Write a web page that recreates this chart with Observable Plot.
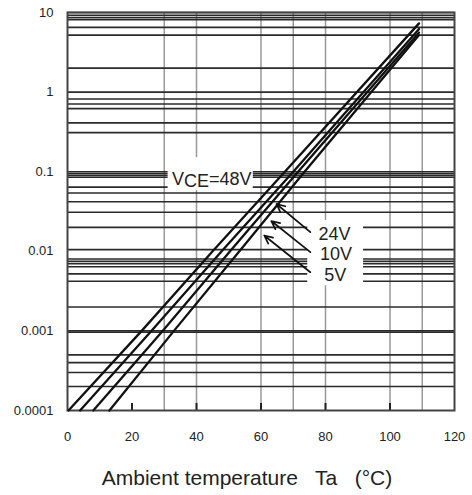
<!DOCTYPE html>
<html><head><meta charset="utf-8">
<script src="https://cdn.jsdelivr.net/npm/d3@7"></script>
<script src="https://cdn.jsdelivr.net/npm/@observablehq/plot@0.6"></script>
<style>
body{margin:0;background:#fff;font-family:"Liberation Sans",Arial,sans-serif;}
#wrap{position:relative;width:472px;height:495px;overflow:hidden;}
#xlabel{position:absolute;left:22px;right:0;top:466px;text-align:center;font-size:21px;line-height:24px;white-space:pre;color:#222;}
</style></head><body>
<div id="wrap"><div id="chart"></div><div id="xlabel">Ambient temperature   Ta   (°C)</div></div>
<script>
// Series (VCE) and readings: temperature (°C) vs value
const series = ["48V", "24V", "10V", "5V"];
const temp48 = [0.3, 23, 45, 67.4, 109];
const val48  = [1e-4, 1e-3, 1e-2, 0.1, 7.3];
const temp24 = [3.9, 26, 47.8, 70, 109];
const val24  = [1e-4, 1e-3, 1e-2, 0.1, 6.2];
const temp10 = [8, 29.5, 50.4, 71.5, 109];
const val10  = [1e-4, 1e-3, 1e-2, 0.1, 5.6];
const temp5  = [13, 33, 53.3, 73.5, 109];
const val5   = [1e-4, 1e-3, 1e-2, 0.1, 5.2];

// Axis ticks
const xTicks = [0, 20, 40, 60, 80, 100, 120];
const xInnerTicks = [20, 40, 60, 80, 100];
const yTicks = [10, 1, 0.1, 0.01, 0.001, 0.0001];
const yTickLabels = ["10", "1", "0.1", "0.01", "0.001", "0.0001"];

// Grid lines as printed in the original
const vGrid = [30, 40, 60, 70, 80, 100, 110];
const hGrid = [10, 9.2, 8.6, 8.1, 6.5, 5.2, 2, 1, 0.82, 0.71, 0.62, 0.41, 0.31,
  0.1, 0.095, 0.09, 0.085, 0.064, 0.054, 0.042, 0.031, 0.02,
  0.0105, 0.008, 0.0075, 0.007, 0.0064, 0.0052, 0.0042, 0.002,
  0.001, 0.00096, 0.0005, 0.0004, 0.0003, 0.0002];

// Annotations (data units)
const labelText = ["VCE=48V", "24V", "10V", "5V"];
const labelT    = [32.4, 77.8, 78.3, 79.6];
const labelV    = [0.081, 0.0166, 0.0093, 0.00497];
const arrowT1 = [75.3, 75.3, 75.3];
const arrowV1 = [0.0174, 0.00975, 0.00546];
const arrowT2 = [64.8, 63.2, 61.0];
const arrowV2 = [0.0393, 0.024, 0.0158];
const boxT1 = [31.2, 74.5], boxT2 = [57.6, 91.8];
const boxV1 = [0.058, 0.0037], boxV2 = [0.15, 0.0244];

const temps = [temp48, temp24, temp10, temp5];
const vals = [val48, val24, val10, val5];
const lineData = series.flatMap((s, i) => temps[i].map((t, j) => ({s, t, v: vals[i][j]})));
const labels = labelText.map((text, i) => ({text, t: labelT[i], v: labelV[i]}));
const arrows = arrowT1.map((t, i) => ({t1: t, v1: arrowV1[i], t2: arrowT2[i], v2: arrowV2[i]}));
const boxes = boxT1.map((t, i) => ({t1: t, t2: boxT2[i], v1: boxV1[i], v2: boxV2[i]}));
const yMin = yTicks[yTicks.length - 1];

const chart = Plot.plot({
  width: 472, height: 450,
  marginLeft: 67, marginRight: 18, marginTop: 12, marginBottom: 40,
  style: {fontFamily: "'Liberation Sans', Arial, sans-serif", color: "#222", background: "white"},
  x: {domain: [0, 120]},
  y: {type: "log", domain: [1e-4, 10]},
  marks: [
    Plot.ruleX(vGrid, {stroke: "#999", strokeWidth: 1.5}),
    Plot.ruleY(hGrid, {stroke: "#2a2a2a", strokeWidth: 1.6}),
    Plot.rect(boxes, {x1: "t1", x2: "t2", y1: "v1", y2: "v2", fill: "white"}),
    Plot.ruleX(xInnerTicks, {x: d => d, y1: () => yMin, y2: () => yMin, insetTop: -7, stroke: "#222", strokeWidth: 2}),
    Plot.axisX({ticks: xTicks, tickSize: 0, tickPadding: 21, fontSize: 13, label: null}),
    Plot.axisY({ticks: yTicks, tickSize: 0, tickPadding: 14, fontSize: 13, label: null,
      tickFormat: d => yTickLabels[yTicks.indexOf(d)]}),
    Plot.frame({stroke: "#444", strokeWidth: 2}),
    Plot.line(lineData, {x: "t", y: "v", z: "s", stroke: "#111", strokeWidth: 2.3}),
    Plot.arrow(arrows, {x1: "t1", y1: "v1", x2: "t2", y2: "v2", stroke: "#111", strokeWidth: 1.7, headLength: 8, headAngle: 50}),
    Plot.text(labels, {x: "t", y: "v", text: "text", textAnchor: "start", fontSize: 18, fill: "#222"})
  ]
});
document.getElementById("chart").appendChild(chart);
chart.querySelectorAll("text").forEach(el => {
  if (el.textContent === "VCE=48V") {
    el.textContent = "";
    const ns = "http://www.w3.org/2000/svg";
    const a = document.createElementNS(ns, "tspan"); a.textContent = "V";
    const b = document.createElementNS(ns, "tspan"); b.textContent = "CE"; b.setAttribute("dy", "2");
    const c = document.createElementNS(ns, "tspan"); c.textContent = "=48V"; c.setAttribute("dy", "-2");
    el.append(a, b, c);
  }
});
</script>
</body></html>
